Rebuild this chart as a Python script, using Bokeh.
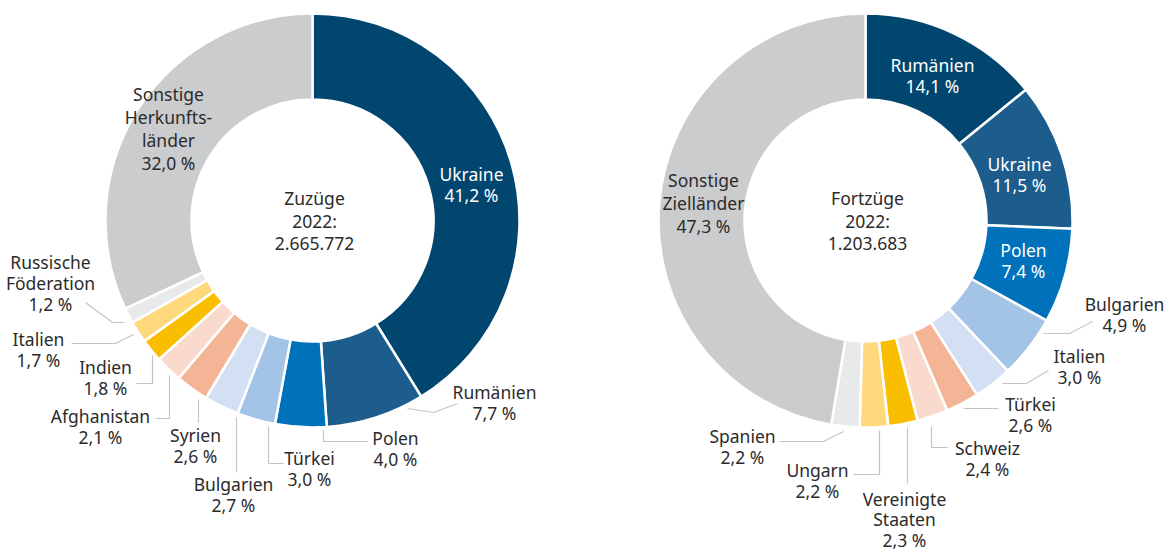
import math
from bokeh.plotting import figure
from bokeh.models import ColumnDataSource, Range1d
from bokeh.embed import file_html
from bokeh.resources import INLINE
from bokeh.core.properties import value

# ---------------- data ----------------
zuzug_laender = ["Ukraine", "Rumänien", "Polen", "Türkei", "Bulgarien", "Syrien",
                 "Afghanistan", "Indien", "Italien", "Russische\nFöderation",
                 "Sonstige\nHerkunfts-\nländer"]
zuzug_anteile = [41.2, 7.7, 4.0, 3.0, 2.7, 2.6, 2.1, 1.8, 1.7, 1.2, 32.0]
zuzug_titel = "Zuzüge"
zuzug_gesamt = 2665772

fortzug_laender = ["Rumänien", "Ukraine", "Polen", "Bulgarien", "Italien", "Türkei",
                   "Schweiz", "Vereinigte\nStaaten", "Ungarn", "Spanien",
                   "Sonstige\nZielländer"]
fortzug_anteile = [14.1, 11.5, 7.4, 4.9, 3.0, 2.6, 2.4, 2.3, 2.2, 2.2, 47.3]
fortzug_titel = "Fortzüge"
fortzug_gesamt = 1203683

jahr = "2022"

# ---------------- styles ----------------
palette = ["#00466f", "#1d5d8d", "#0072bb", "#a3c3e7", "#d3e0f3", "#f3b596",
           "#f9dacd", "#f9be00", "#fed87b", "#e8e9eb", "#cbcccd"]
left_inside = 1    # number of labels drawn in white inside the ring
right_inside = 3
TEXT = "#2b2b2b"
LEADER = "#c4c4c4"
FONT = "Noto Sans"
FS = "17.5px"

W, H = 1166, 550
def X(px): return px
def Y(py): return H - py

# layout (picture pixel coordinates)
left_center = (312, 220)
right_center = (865, 220)
R_OUT, R_IN = 207, 121

left_label_pos = [(471, 173), (494, 391), (395, 437), (309, 457), (233, 483), (195, 434),
                  (100, 415), (105, 366), (38, 338), (50, 261), (168, 93)]
left_label_ls = [21, 21, 21, 21, 21, 21, 21, 21, 21, 21, 23]
left_leaders = [None,
                [(407, 408), (433, 412), (457, 403)],
                [(323, 430), (323, 441), (367, 441)],
                [(268, 426), (268, 463), (283, 463)],
                [(236, 417), (236, 472)],
                [(198, 399), (198, 422)],
                [(169, 375), (169, 418), (155, 418)],
                [(152, 355), (152, 383), (136, 383)],
                [(133, 334), (115, 343), (71, 343)],
                [(124, 322), (112, 322), (85, 302)],
                None]

right_label_pos = [(932, 64), (1019, 163), (1023, 249), (1124, 303), (1079, 355), (1030, 403),
                   (987, 447), (904, 498), (817, 469), (742, 435), (703, 179)]
right_label_ls = [21, 21, 21, 21, 21, 21, 21, 20.5, 21, 21, 23]
right_leaders = [None, None, None,
                 [(1043, 333), (1069, 333), (1092, 321)],
                 [(1002, 383), (1026, 383), (1048, 370)],
                 [(963, 408), (998, 408)],
                 [(931, 426), (931, 447), (947, 447)],
                 [(907, 427), (907, 483)],
                 [(879, 430), (879, 474), (853, 474)],
                 [(843, 431), (823, 441), (779, 441)],
                 None]

p = figure(width=W, height=H, output_backend="svg", toolbar_location=None,
           x_range=Range1d(0, W), y_range=Range1d(0, H), min_border=0)
p.xaxis.visible = False
p.yaxis.visible = False
p.grid.visible = False
p.outline_line_color = None
p.background_fill_color = "white"
p.border_fill_color = "white"


def fmt_pct(v):
    return f"{v:.1f}".replace(".", ",") + " %"


def fmt_total(n):
    return f"{n:,}".replace(",", ".")


def donut(center, names, vals, label_pos, label_ls, leaders, n_inside, titel, gesamt):
    total = sum(vals)
    starts, ends = [], []
    c = 0.0
    for v in vals:
        a0 = math.pi / 2 - 2 * math.pi * c / total
        c += v
        a1 = math.pi / 2 - 2 * math.pi * c / total
        starts.append(a1)
        ends.append(a0)
    src = ColumnDataSource(dict(x=[X(center[0])] * len(vals), y=[Y(center[1])] * len(vals),
                                start=starts, end=ends, color=palette[:len(vals)]))
    p.annular_wedge(x="x", y="y", inner_radius=R_IN, outer_radius=R_OUT,
                    start_angle="start", end_angle="end", fill_color="color",
                    line_color="white", line_width=2.5, source=src)

    # leader lines
    xs, ys = [], []
    for ld in leaders:
        if ld:
            xs.append([X(q[0]) for q in ld])
            ys.append([Y(q[1]) for q in ld])
    p.multi_line(xs=xs, ys=ys, line_color=LEADER, line_width=1.2)

    # labels
    tx, ty, tt, tc = [], [], [], []
    for i, (n, v) in enumerate(zip(names, vals)):
        lines = n.split("\n") + [fmt_pct(v)]
        x0, y0 = label_pos[i]
        for k, ln in enumerate(lines):
            tx.append(X(x0))
            ty.append(Y(y0 + k * label_ls[i]))
            tt.append(ln)
            tc.append("#ffffff" if i < n_inside else TEXT)
    p.text(x=tx, y=ty, text=tt, text_color=tc, text_font=value(FONT),
           text_font_size=FS, text_align="center", text_baseline="middle")

    # center text
    ctext = [titel, jahr + ":", fmt_total(gesamt)]
    p.text(x=[X(center[0] + 2)] * 3, y=[Y(197), Y(220), Y(243)], text=ctext,
           text_color=TEXT, text_font=value(FONT), text_font_size=FS,
           text_align="center", text_baseline="middle")


donut(left_center, zuzug_laender, zuzug_anteile, left_label_pos, left_label_ls,
      left_leaders, left_inside, zuzug_titel, zuzug_gesamt)
donut(right_center, fortzug_laender, fortzug_anteile, right_label_pos, right_label_ls,
      right_leaders, right_inside, fortzug_titel, fortzug_gesamt)

open("out.html", "w").write(file_html(p, INLINE))
